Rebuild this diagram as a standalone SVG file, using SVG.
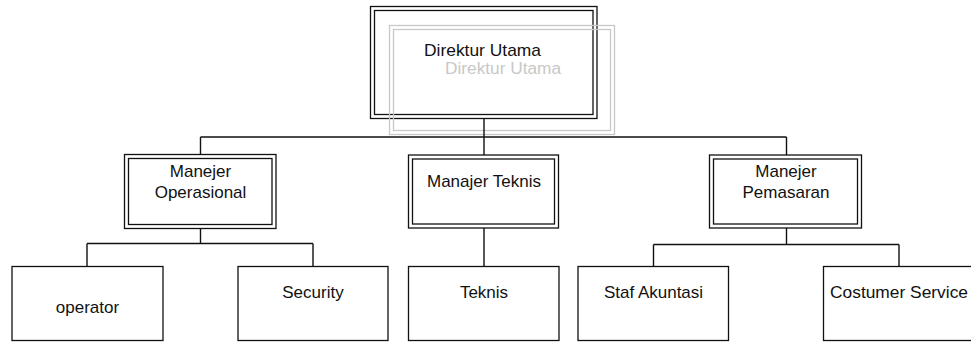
<svg xmlns="http://www.w3.org/2000/svg" width="971" height="342" viewBox="0 0 971 342">
  <style>
    .line { fill: none; stroke: #111; stroke-width: 1.4; }
    .box { fill: #fff; stroke: #111; stroke-width: 1.3; }
    .inner { fill: none; stroke: #111; stroke-width: 1.3; }
    .ghost { fill: none; stroke: #c8c8c8; stroke-width: 1.3; }
    .lbl { font-family: "Liberation Sans", Arial, sans-serif; font-size: 17px; fill: #111; text-anchor: middle; }
    .ghost-lbl { font-family: "Liberation Sans", Arial, sans-serif; font-size: 16px; fill: #c8c8c8; text-anchor: middle; }
  </style>
  <rect width="971" height="342" fill="#fff"/>

  <!-- top: director (double border) with a faded copy behind -->
  <g id="direktur-utama">
    <rect class="box" x="370.5" y="6.5" width="226.5" height="112"/>
    <rect class="inner" x="374.5" y="10.5" width="218.5" height="104"/>
    <rect class="ghost" x="389.5" y="25.5" width="225" height="109"/>
    <rect class="ghost" x="393.5" y="29.5" width="217" height="101"/>
    <text class="lbl" x="482.5" y="56" font-size="16" textLength="117" lengthAdjust="spacingAndGlyphs">Direktur Utama</text>
    <text class="ghost-lbl" x="503" y="74" textLength="116" lengthAdjust="spacingAndGlyphs">Direktur Utama</text>
  </g>

  <!-- connectors -->
  <g id="connectors">
    <path class="line" d="M484 118.5 V137 M200.5 137 H786.5 M200.5 137 V154.5 M484 137 V155 M786.5 137 V155"/>
    <path class="line" d="M200.5 228 V243.5 M87 243.5 H313 M87 243.5 V266.5 M313 243.5 V266.5"/>
    <path class="line" d="M484 228 V266.5"/>
    <path class="line" d="M786.5 228 V244.5 M653.5 244.5 H899 M653.5 244.5 V266.5 M899 244.5 V266.5"/>
  </g>

  <!-- managers -->
  <g id="manajer-operasional">
    <rect class="box" x="124.5" y="154.5" width="151.5" height="74"/>
    <rect class="inner" x="128.5" y="158.5" width="143.5" height="66"/>
    <text class="lbl" x="200.5" y="177">Manejer</text>
    <text class="lbl" x="200.5" y="198">Operasional</text>
  </g>
  <g id="manajer-teknis">
    <rect class="box" x="408.5" y="155" width="150" height="73"/>
    <rect class="inner" x="412.5" y="159" width="142" height="65"/>
    <text class="lbl" x="484" y="187">Manajer Teknis</text>
  </g>
  <g id="manajer-pemasaran">
    <rect class="box" x="709.5" y="155" width="152" height="73"/>
    <rect class="inner" x="713.5" y="159" width="144" height="65"/>
    <text class="lbl" x="786" y="177">Manejer</text>
    <text class="lbl" x="786" y="198">Pemasaran</text>
  </g>

  <!-- staff -->
  <g id="operator">
    <rect class="box" x="12" y="266.5" width="151" height="74"/>
    <text class="lbl" x="87.5" y="313">operator</text>
  </g>
  <g id="security">
    <rect class="box" x="238" y="266.5" width="150" height="74"/>
    <text class="lbl" x="313" y="298">Security</text>
  </g>
  <g id="teknis">
    <rect class="box" x="408.5" y="266.5" width="150.5" height="74"/>
    <text class="lbl" x="484" y="298">Teknis</text>
  </g>
  <g id="staf-akuntasi">
    <rect class="box" x="578" y="266.5" width="150.5" height="74"/>
    <text class="lbl" x="653.5" y="298">Staf Akuntasi</text>
  </g>
  <g id="costumer-service">
    <rect class="box" x="823.5" y="266.5" width="151" height="74"/>
    <text class="lbl" x="899" y="298" textLength="138" lengthAdjust="spacingAndGlyphs">Costumer Service</text>
  </g>
</svg>
